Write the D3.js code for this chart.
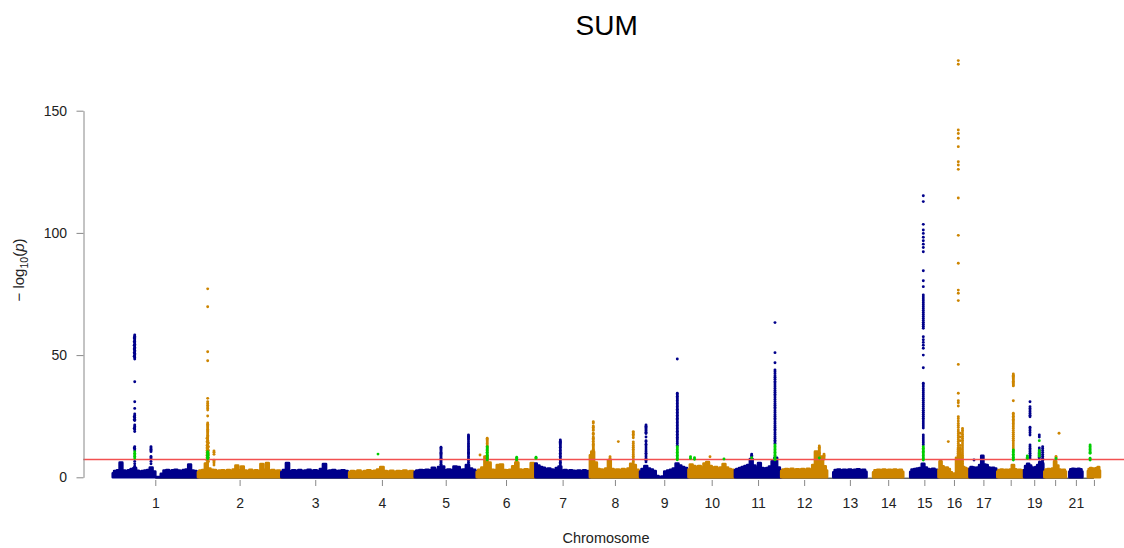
<!DOCTYPE html>
<html><head><meta charset="utf-8">
<script src="https://cdn.jsdelivr.net/npm/d3@7"></script>
<style>body{margin:0;background:#fff}svg{display:block;font-family:"Liberation Sans",Arial,sans-serif}</style>
</head><body>
<svg id="c" width="1124" height="548"></svg>
<script>
// ---------- DATA ----------
const chromosomes = ["1","2","3","4","5","6","7","8","9","10","11","12","13","14","15","16","17","18","19","20","21","22"];
const tickLabels  = ["1","2","3","4","5","6","7","8","9","10","11","12","13","14","15","16","17","","19","","21",""];
const chrLengths = [249.3,243.2,198.0,191.2,180.9,171.1,159.1,146.4,141.2,135.5,135.0,133.9,115.2,107.3,102.5,90.4,81.2,78.1,59.1,63.0,48.1,51.3];
const dataStart  = [0.7,0,0,0,0,0,0,0,0,0,0,0,18,19,20,0,0,0,0,0,10,16];
const dataEnd    = [249,243,198,191,181,171,159,146,141,135.5,135,133.9,115,107,102.5,90.3,81.2,78.1,59.1,63,48.1,51.2];
const yTicks = [0,50,100,150];
const genomeWideLine = 7.3;
const titleText = "SUM";
const xTitle = "Chromosome";

// top of the dense band of non-significant SNPs, evenly spaced from dataStart to dataEnd
const bandTops = [
 [1.6,2.6,2.9,6.0,2.8,2.6,2.9,3.4,3.8,2.7,2.4,2.6,2.8,3.0,4.0,2.4,0.1,0.1,1.4,2.8,3.0,2.6,2.9,3.1,2.8,2.6,3.0,3.2,5.2,2.8,2.6,1.8],
 [2.1,2.8,3.0,5.6,3.6,3.1,3.0,2.6,2.8,2.9,2.6,3.0,2.7,3.2,4.8,2.9,4.4,2.8,2.6,3.1,2.7,2.9,2.6,5.4,3.1,5.8,2.8,3.0,2.6,2.8,2.2],
 [2.1,3.0,5.8,2.6,2.9,2.7,3.0,2.6,2.8,3.1,2.7,2.9,2.6,3.4,5.4,2.6,2.8,3.0,2.6,2.7,2.9,2.6,2.1],
 [2.0,2.6,2.4,2.8,2.3,2.6,2.9,2.5,2.7,3.2,4.2,2.6,2.4,2.7,2.3,2.6,2.5,2.8,2.4,2.6,2.1],
 [2.2,2.8,3.0,2.9,3.1,2.9,3.9,3.1,4.2,4.4,2.9,3.2,3.0,4.4,4.2,3.1,3.2,5.0,3.6,3.1,2.4],
 [2.2,3.1,4.0,8.5,6.0,3.1,3.0,5.0,5.2,3.0,2.9,3.1,4.5,6.0,3.2,3.0,3.3,3.1,5.8,3.5],
 [5.6,4.8,4.2,3.9,3.4,3.6,3.2,3.0,3.8,4.4,2.8,3.0,2.6,2.9,2.7,2.6,2.8,2.6,2.9,2.6,2.2],
 [9.0,10.5,6.0,3.4,3.2,3.1,3.6,7.0,3.4,3.1,3.2,3.0,3.4,3.1,3.6,5.5,5.0,3.1,2.4],
 [2.4,3.4,4.6,3.6,3.2,2.6,0.5,0.1,0.3,2.4,2.8,3.1,3.6,5.6,4.8,4.2,3.8,2.8],
 [3.2,5.2,4.6,4.2,4.6,4.0,5.6,6.2,4.6,4.0,4.2,3.6,4.0,5.4,4.0,3.4,3.1,2.6],
 [3.0,3.4,3.8,4.2,4.6,5.0,7.5,4.8,4.0,5.8,3.8,3.6,3.8,4.4,6.5,8.0,4.0,2.8],
 [2.6,3.2,3.4,3.2,3.5,3.1,3.3,3.2,3.4,3.1,3.5,3.2,5.0,10.5,7.0,8.5,4.5,2.8],
 [2.0,3.0,3.2,2.9,3.1,3.0,3.2,2.9,3.1,3.3,3.0,3.1,2.2],
 [2.0,2.9,3.1,3.0,3.2,2.9,3.1,3.0,3.2,2.9,3.1,2.2],
 [2.2,3.2,3.4,3.6,3.8,5.5,4.0,3.4,3.2,3.5,3.1,2.4],
 [3.0,6.5,4.5,3.8,4.0,3.4,2.0,0.1,1.5,8.0,12.0,9.0,4.2,3.8,3.4,2.6],
 [3.6,4.2,4.0,3.8,4.0,5.0,8.8,5.2,5.0,4.0,3.8,3.9,3.6,2.8],
 [2.4,3.0,3.2,3.0,3.1,2.9,3.2,5.0,3.3,3.0,3.1,2.9,2.2],
 [3.0,4.6,5.5,4.8,4.0,3.6,4.2,5.0,6.2,5.5,3.0],
 [2.4,3.2,3.4,3.0,3.6,6.5,4.8,3.2,3.0,3.1,2.4],
 [2.4,3.3,3.5,3.4,3.2,3.5,3.3,2.4],
 [2.6,3.4,3.8,3.4,3.6,3.3,3.8,4.2,2.8]
];

// significant loci: chromosome number, position (Mb), -log10(p) values of the SNPs
const peakChr = [1,1,1,2,2,2,2,5,5,6,6,6,7,8,8,8,8,9,9,10,11,11,12,12,15,16,16,16,16,17,18,19,19,19,20,20];
const peakPos = [64.8,63.3,112.3,28.4,26.5,30.5,46.8,76.7,156.9,30.6,9.6,116.6,72.8,9.9,82.9,58.7,126.6,17.3,108.6,62.8,48.9,116.9,111.2,124.9,58.2,57.8,63.5,70.1,28.6,13.2,46.7,17.3,44.4,54.2,42.9,34.1];
const peakVals = [
 [58.2,57.7,57.2,56.7,56.2,55.6,55.0,54.4,53.8,53.2,52.6,52.0,51.4,50.8,50.2,49.6,49.0,48.4,39.1,30.9,28.2,25.9,25.2,24.5,23.8,23.2,21.4,20.8,20.2,19.5,18.7,12.5,11.8,11.2,6.5,5.5,4.5],
 [57.0,55.5,54.0,52.5,51.0,49.5,24.8,23.5,20.0,12.0],
 [12.5,12.0,11.5,11.0,10.5,8.5,8.0,7.5,6.5,5.5],
 [77.1,69.8,51.4,47.7,32.3,30.9,30.2,29.5,28.8,28.2,27.5,25.1,22.2,21.7,21.2,20.7,20.2,19.7,19.2,18.7,18.2,17.7,17.2,16.7,16.2,15.7,15.2,14.7,14.2,13.7,13.2,12.7,12.2,11.7,11.2,10.7,10.2,9.7,9.2,8.7,8.2,7.0,6.0],
 [16.0,14.5,13.0,12.0,11.0,10.0,9.0,8.0,7.0,6.0],
 [14.0,12.5,11.0,9.5,8.0,6.5],
 [10.8,10.2,9.4,7.0,6.4,5.8,5.0],
 [12.3,11.8,11.3,10.8,10.3,9.8,9.3,8.8,8.3,7.8,7.3,6.8,6.3,5.8,5.3,4.8],
 [17.3,16.8,16.3,15.8,15.3,14.5,13.8,13.2,12.6,12.0,11.4,10.8,10.2,9.8,9.2,8.5,7.8,7.0,6.2,5.4],
 [16.0,15.5,15.0,14.4,13.8,13.2,12.6,12.0,11.0,10.0,9.0,8.0],
 [9.1],
 [7.0,6.5,6.0,5.5],
 [15.3,14.8,14.3,13.8,13.3,12.8,12.3,11.6,11.0,10.4,9.8,9.2,8.6,8.0,7.4,6.8,6.2,5.6,5.0],
 [22.7,22.2,21.0,20.5,19.8,19.2,18.0,17.5,16.5,16.0,15.5,14.8,14.0,13.5,13.0,12.5,12.0,11.5,11.0,10.5,10.0],
 [14.6],
 [8.4,7.8],
 [18.7,18.2,17.6,17.0,16.2,14.5,13.8,13.0,12.3,11.5,10.8,10.0,9.3,8.6,7.9,7.2,6.5,5.8],
 [21.4,20.9,20.4,19.9,19.4,18.9,18.4,17.9,16.5,15.0,14.5,13.5,12.8,12.0,11.2,10.5,9.8,9.1,8.4,7.7,7.0,6.3],
 [48.4,34.4,33.8,33.2,32.6,32.0,31.4,30.8,30.2,29.6,29.0,28.4,27.8,27.2,26.6,26.0,25.4,24.8,24.2,23.6,23.0,22.4,21.8,21.2,20.6,20.0,19.4,18.8,18.2,17.6,17.0,16.4,15.8,15.3,14.5,13.8,13.0],
 [8.4],
 [9.5,9.0,8.5],
 [63.3,51.0,46.9,43.9,43.2,42.4,41.5,40.9,40.1,39.2,38.6,37.8,37.0,36.3,35.5,34.8,34.0,33.3,32.5,31.8,31.0,30.2,29.5,28.7,28.0,27.2,26.5,25.7,25.0,24.2,23.5,22.7,22.0,21.2,20.5,19.7,19.0,18.2,17.5,16.7,16.0,15.2,14.5,13.8],
 [12.8,12.3,11.8,11.3,10.8,10.3,9.8,9.3,8.8],
 [9.5,9.0,8.5,8.0,7.5],
 [115.2,112.8,103.5,101.2,99.8,98.2,96.8,95.4,94.0,92.3,84.5,80.4,78.0,74.6,73.8,73.0,72.2,71.4,70.6,69.8,69.0,68.2,67.4,66.6,65.8,65.0,64.2,63.4,62.6,61.8,61.0,57.5,56.3,55.2,54.0,52.8,50.0,44.8,38.5,37.8,37.0,36.2,35.4,34.6,33.8,33.0,32.2,31.4,30.6,29.8,29.0,28.2,27.4,26.6,25.8,25.0,24.2,23.4,22.6,21.8,21.0,20.2,17.3,16.5,15.7,14.9,14.1,13.3],
 [170.5,169.0,142.1,140.7,138.7,135.3,129.1,127.8,126.0,114.3,99.0,87.6,76.6,75.3,72.3,46.2,34.4,31.3,30.5,29.2,24.8,24.0,23.0,22.0,21.2,20.4,19.4,18.6,17.8,17.0,16.2,15.4,14.6,13.8,13.0,12.2,11.4,10.6,9.8,9.0,8.2,7.4,6.6,5.8,5.0,4.2],
 [18.0,16.5,15.0,13.0,11.5,10.0,8.5,7.0,5.5],
 [20.0,19.3,18.5,17.6,16.8,16.0,15.2,14.4,13.6,12.8,12.0,11.2,10.4,9.6,8.8,8.0,7.2,6.4,5.6,4.8,4.0],
 [14.6],
 [7.1],
 [42.3,41.8,41.3,40.8,40.3,39.8,39.3,38.8,38.3,37.8,37.4,31.3,26.2,25.6,25.0,24.4,23.8,23.2,22.6,22.0,21.4,20.7,20.0,19.2,18.4,17.6,16.8,16.0,15.2,14.4,13.6,12.8,12.0,11.2],
 [30.9,28.9,28.2,27.5,26.8,26.1,25.4,24.8,20.5,19.8,19.0,18.2,17.3,13.2,12.5,11.8,11.2,10.5,9.8,9.0,8.3,7.6],
 [17.3,16.5,12.0,11.2,10.5,9.8,9.0,8.2,7.5],
 [12.5,11.8,11.0,10.2,9.4,8.6,7.8,7.0,6.2],
 [18.0],
 [8.5,8.0]
];

// highlighted SNPs (green)
const greenChr = [1,2,2,4,6,6,7,9,10,10,10,11,11,12,15,18,19,19,20,22];
const greenPos = [64.8,28.4,29.5,84.1,30.6,116.6,1.9,108.6,5.9,17.6,103.6,48.9,116.9,111.2,58.2,46.7,9.4,44.4,34.1,22.4];
const greenVals = [
 [10.5,9.8,9.2,8.6,7.9],
 [10.5,10.0,9.5,9.0,8.5,8.0,7.6],
 [10.0,9.0,8.0],
 [9.5],
 [12.5,12.0,11.4,10.8,10.2,9.6,9.0,8.4,7.8,7.2],
 [8.2,7.7,7.2],
 [8.2,7.8],
 [12.5,12.0,11.4,10.8,10.2,9.6,9.0,8.4,7.8,7.2],
 [8.4,7.8],
 [8.0,7.4],
 [7.5],
 [8.0],
 [13.2,12.6,12.0,11.4,10.8,10.2,9.6,9.0,8.4,7.8,7.2],
 [7.9],
 [12.5,11.9,11.3,10.7,10.1,9.5,8.9,8.3,7.7,7.1],
 [11.2,10.6,10.0,9.4,8.8,8.2,7.6,7.1],
 [8.7,8.2,7.8],
 [15.0,11.0,10.2,9.4,8.6],
 [7.7],
 [13.2,12.6,12.0,11.4,10.8,10.2,9.8,7.8,7.1]
];

const colNavy = "#00008B", colOrange = "#CD8500", colGreen = "#00CD00", colLine = "#f25050";

// ---------- DRAW ----------
const svg = d3.select("#c");
const cumStart = [];
chrLengths.reduce((acc, L, i) => { cumStart[i] = acc; return acc + L; }, 0);
const total = d3.sum(chrLengths);

const x = d3.scaleLinear().domain([0, total]).range([112.5, 1100]);
const y = d3.scaleLinear().domain([0, 150]).range([477.3, 110.7]);
const chrColor = i => (i % 2 === 0 ? colNavy : colOrange);
const gx = (c, p) => x(cumStart[c - 1] + p);

const tickPos = chromosomes.map((c, i) => cumStart[i] + (dataStart[i] + dataEnd[i]) / 2);

// faint baseline seen in data gaps
svg.append("line")
  .attr("x1", x(tickPos[0])).attr("x2", x(tickPos[tickPos.length - 1]))
  .attr("y1", 478.2).attr("y2", 478.2)
  .attr("stroke", "#222").attr("stroke-width", 1);

// bands
const area = d3.area().curve(d3.curveStep).x(d => x(d[0])).y0(y(0)).y1(d => y(d[1]));
bandTops.forEach((vals, i) => {
  const n = vals.length;
  const pts = vals.map((v, k) => [cumStart[i] + dataStart[i] + k * (dataEnd[i] - dataStart[i]) / (n - 1), v]);
  svg.append("path").datum(pts).attr("d", area)
    .attr("fill", chrColor(i)).attr("stroke", chrColor(i))
    .attr("stroke-width", 2.6).attr("stroke-linejoin", "round");
});

// peak SNPs
const peakPts = [];
peakChr.forEach((c, i) => peakVals[i].forEach(v => peakPts.push({c, p: peakPos[i], v})));
svg.append("g").selectAll("circle").data(peakPts).join("circle")
  .attr("cx", d => gx(d.c, d.p)).attr("cy", d => y(d.v)).attr("r", 1.45)
  .attr("fill", d => chrColor(d.c - 1));

// genome-wide significance line
const yl7 = y(genomeWideLine);
svg.append("line").attr("x1", 83.3).attr("x2", 1124)
  .attr("y1", yl7).attr("y2", yl7)
  .style("stroke", colLine).style("stroke-width", "1.6px");

// highlighted SNPs
const greenPts = [];
greenChr.forEach((c, i) => greenVals[i].forEach(v => greenPts.push({c, p: greenPos[i], v})));
svg.append("g").selectAll("circle").data(greenPts).join("circle")
  .attr("cx", d => gx(d.c, d.p)).attr("cy", d => y(d.v)).attr("r", 1.45)
  .attr("fill", colGreen);

// y axis
const yAxis = svg.append("g").attr("transform", "translate(83.5,0)")
  .call(d3.axisLeft(y).tickValues(yTicks).tickSize(7).tickSizeOuter(0).tickPadding(9.5));
yAxis.select(".domain").attr("stroke", "#888");
yAxis.selectAll(".tick line").attr("stroke", "#888");
yAxis.selectAll(".tick text").attr("font-size", 14).attr("fill", "#222")
  .attr("font-family", '"Liberation Sans",Arial,sans-serif');

// x axis
const xAxis = svg.append("g").attr("transform", "translate(0,480)")
  .call(d3.axisBottom(x).tickValues(tickPos).tickSize(6).tickPadding(12)
    .tickFormat((d, i) => tickLabels[i]));
xAxis.select(".domain").remove();
xAxis.selectAll(".tick line").attr("stroke", "#888");
xAxis.selectAll(".tick text").attr("font-size", 14).attr("fill", "#222")
  .attr("font-family", '"Liberation Sans",Arial,sans-serif');

// titles
svg.append("text").attr("x", 606.7).attr("y", 35).attr("text-anchor", "middle")
  .attr("font-size", 28).attr("fill", "#000").text(titleText);
svg.append("text").attr("x", 606).attr("y", 543.3).attr("text-anchor", "middle")
  .attr("font-size", 14.5).attr("fill", "#222").text(xTitle);

const yl = svg.append("text").attr("transform", "translate(24,270) rotate(-90)")
  .attr("text-anchor", "middle").attr("font-size", 15).attr("fill", "#222");
yl.append("tspan").text("\u2212 log");
yl.append("tspan").attr("font-size", 10.5).attr("dy", 4).text("10");
yl.append("tspan").attr("dy", -4).text("(");
yl.append("tspan").attr("font-style", "italic").text("p");
yl.append("tspan").text(")");
</script>
</body></html>
